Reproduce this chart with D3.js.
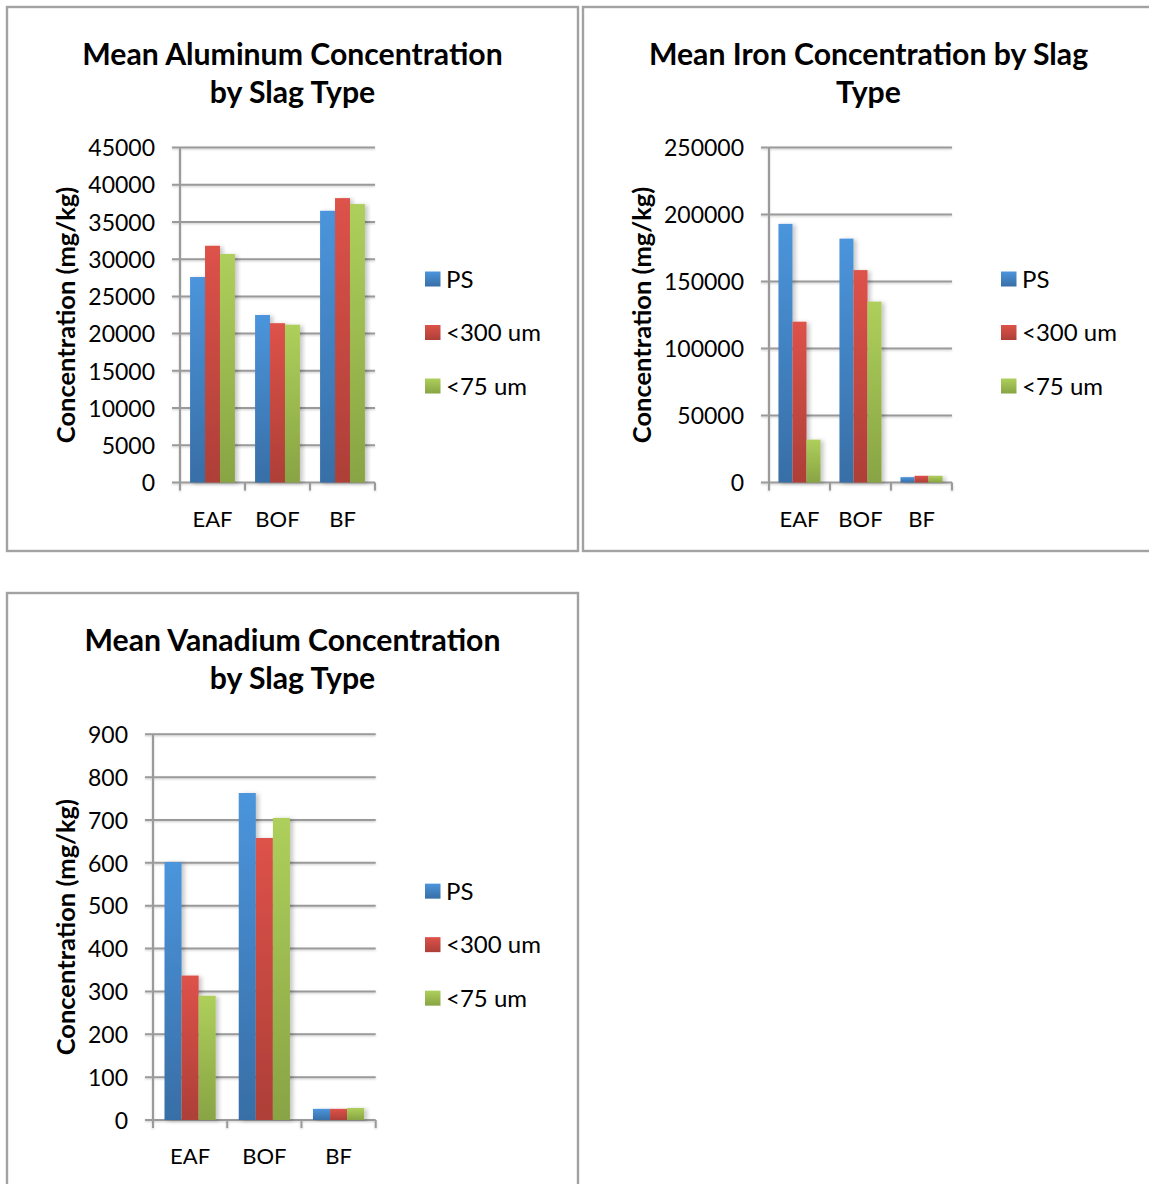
<!DOCTYPE html>
<html>
<head>
<meta charset="utf-8">
<script src="https://cdn.jsdelivr.net/npm/d3@7"></script>
<style>
  html, body { margin: 0; padding: 0; background: #ffffff; }
  svg { display: block; }
  text { font-family: Lato, "Open Sans", sans-serif; fill: #000; }
</style>
</head>
<body>
<svg id="chart" width="1149" height="1184"></svg>
<script>
// Slag types on the x axis and the three particle-size series
const categories = ["EAF", "BOF", "BF"];
const seriesNames = ["PS", "<300 um", "<75 um"];

// Mean aluminum concentration (mg/kg)
const aluminumPS = [27600, 22500, 36500];
const aluminum300 = [31800, 21400, 38200];
const aluminum75 = [30700, 21200, 37400];
const aluminumTicks = [0, 5000, 10000, 15000, 20000, 25000, 30000, 35000, 40000, 45000];

// Mean iron concentration (mg/kg)
const ironPS = [193000, 182000, 4000];
const iron300 = [120000, 158500, 5000];
const iron75 = [32000, 135000, 5000];
const ironTicks = [0, 50000, 100000, 150000, 200000, 250000];

// Mean vanadium concentration (mg/kg)
const vanadiumPS = [602, 763, 26];
const vanadium300 = [337, 658, 26];
const vanadium75 = [290, 705, 28];
const vanadiumTicks = [0, 100, 200, 300, 400, 500, 600, 700, 800, 900];

const yAxisTitle = "Concentration (mg/kg)";

const svg = d3.select("#chart");
const defs = svg.append("defs");

// Vertical gradients for each series (lighter at the top)
const seriesColors = [
  { id: "gBlue", top: "#4b95dc", bottom: "#386ea6" },
  { id: "gRed", top: "#dd5249", bottom: "#ad3f38" },
  { id: "gGreen", top: "#aecf5b", bottom: "#88a444" }
];
seriesColors.forEach(c => {
  const g = defs.append("linearGradient")
    .attr("id", c.id).attr("x1", 0).attr("y1", 0).attr("x2", 0).attr("y2", 1);
  g.append("stop").attr("offset", "0%").attr("stop-color", c.top);
  g.append("stop").attr("offset", "100%").attr("stop-color", c.bottom);
});

// Soft shadow cast by the bars
const barShadow = defs.append("filter").attr("id", "barShadow")
  .attr("x", "-20%").attr("y", "-10%").attr("width", "160%").attr("height", "120%");
barShadow.append("feDropShadow").attr("dx", 3).attr("dy", 1)
  .attr("stdDeviation", 2.2).attr("flood-color", "#000").attr("flood-opacity", 0.22);

// Faint shadow under grid and axis lines
const lineShadow = defs.append("filter").attr("id", "lineShadow")
  .attr("x", "-5%").attr("y", "-200%").attr("width", "110%").attr("height", "500%");
lineShadow.append("feDropShadow").attr("dx", 0).attr("dy", 1)
  .attr("stdDeviation", 0.8).attr("flood-color", "#000").attr("flood-opacity", 0.2);

const charts = [
  {
    title: ["Mean Aluminum Concentration", "by Slag Type"],
    series: [aluminumPS, aluminum300, aluminum75],
    ticks: aluminumTicks,
    frame: { x: 7, y: 7, w: 571, h: 544 },
    plot: { left: 180, top: 147.5, right: 375, bottom: 482.5 }
  },
  {
    title: ["Mean Iron Concentration by Slag", "Type"],
    series: [ironPS, iron300, iron75],
    ticks: ironTicks,
    frame: { x: 583, y: 7, w: 571, h: 544 },
    plot: { left: 769, top: 147.5, right: 952, bottom: 482.5 }
  },
  {
    title: ["Mean Vanadium Concentration", "by Slag Type"],
    series: [vanadiumPS, vanadium300, vanadium75],
    ticks: vanadiumTicks,
    frame: { x: 7, y: 593, w: 571, h: 610 },
    plot: { left: 153, top: 734.3, right: 375.7, bottom: 1120 }
  }
];

charts.forEach(drawChart);

function drawChart(cfg) {
  const g = svg.append("g");
  const f = cfg.frame, p = cfg.plot;

  // Chart border
  g.append("rect")
    .attr("x", f.x).attr("y", f.y).attr("width", f.w).attr("height", f.h)
    .attr("fill", "#fff").attr("stroke", "#a2a2a2").attr("stroke-width", 2.4);

  const cx = f.x + f.w / 2;

  // Two-line bold title
  cfg.title.forEach((line, i) => {
    g.append("text")
      .attr("x", cx).attr("y", f.y + 57.5 + i * 38)
      .attr("text-anchor", "middle")
      .style("font-size", "30.2px").style("font-weight", "bold")
      .text(line);
  });

  const maxTick = d3.max(cfg.ticks);
  const y = d3.scaleLinear().domain([0, maxTick]).range([p.bottom, p.top]);
  const x = d3.scaleBand().domain(categories).range([p.left, p.right]).padding(0);
  const groupPad = x.bandwidth() * 0.155;
  const xs = d3.scaleBand().domain(d3.range(seriesNames.length))
    .range([groupPad, x.bandwidth() - groupPad]).padding(0);

  // Gridlines with tick stubs left of the axis
  const grid = g.append("g").attr("filter", "url(#lineShadow)");
  grid.selectAll("line.grid").data(cfg.ticks).join("line")
    .attr("class", "grid")
    .attr("x1", p.left - 8).attr("x2", p.right)
    .attr("y1", d => y(d)).attr("y2", d => y(d))
    .attr("stroke", "#9a9a9a").attr("stroke-width", 2);

  // Vertical axis line
  grid.append("line")
    .attr("x1", p.left).attr("x2", p.left)
    .attr("y1", p.top).attr("y2", p.bottom + 8)
    .attr("stroke", "#9a9a9a").attr("stroke-width", 2);

  // Category boundary ticks below the baseline
  const boundaries = categories.map(c => x(c) + x.bandwidth());
  grid.selectAll("line.ctick").data(boundaries).join("line")
    .attr("class", "ctick")
    .attr("x1", d => d).attr("x2", d => d)
    .attr("y1", p.bottom).attr("y2", p.bottom + 8)
    .attr("stroke", "#9a9a9a").attr("stroke-width", 2);

  // Y tick labels
  g.selectAll("text.ytick").data(cfg.ticks).join("text")
    .attr("class", "ytick")
    .attr("x", p.left - 25).attr("y", d => y(d))
    .attr("dy", "0.38em")
    .attr("text-anchor", "end")
    .style("font-size", "23px")
    .text(d => d);

  // Category labels
  g.selectAll("text.xtick").data(categories).join("text")
    .attr("class", "xtick")
    .attr("x", d => x(d) + x.bandwidth() / 2)
    .attr("y", p.bottom + 44)
    .attr("text-anchor", "middle")
    .style("font-size", "22px")
    .text(d => d);

  // Rotated y-axis title
  const ty = (p.top + p.bottom) / 2;
  g.append("text")
    .attr("transform", `translate(${f.x + 59},${ty}) rotate(-90)`)
    .attr("text-anchor", "middle")
    .attr("dy", "0.36em")
    .style("font-size", "25.5px").style("font-weight", "bold")
    .text(yAxisTitle);

  // Bars
  const bars = g.append("g");
  cfg.series.forEach((values, si) => {
    bars.selectAll(null).data(values.map((v, i) => ({ cat: categories[i], v })))
      .join("rect")
      .attr("x", d => x(d.cat) + xs(si))
      .attr("y", d => y(d.v))
      .attr("width", xs.bandwidth())
      .attr("height", d => y(0) - y(d.v))
      .attr("fill", `url(#${seriesColors[si].id})`)
      .attr("filter", "url(#barShadow)");
  });

  // Legend
  const lx = f.x + 418;
  const legend = g.append("g");
  seriesNames.forEach((name, i) => {
    const ly = ty - 36 + i * 53.5;
    legend.append("rect")
      .attr("x", lx).attr("y", ly - 7.5).attr("width", 15.5).attr("height", 15)
      .attr("fill", `url(#${seriesColors[i].id})`);
    legend.append("text")
      .attr("x", lx + 21).attr("y", ly).attr("dy", "0.36em")
      .style("font-size", "24px")
      .text(name);
  });
}
</script>
</body>
</html>
